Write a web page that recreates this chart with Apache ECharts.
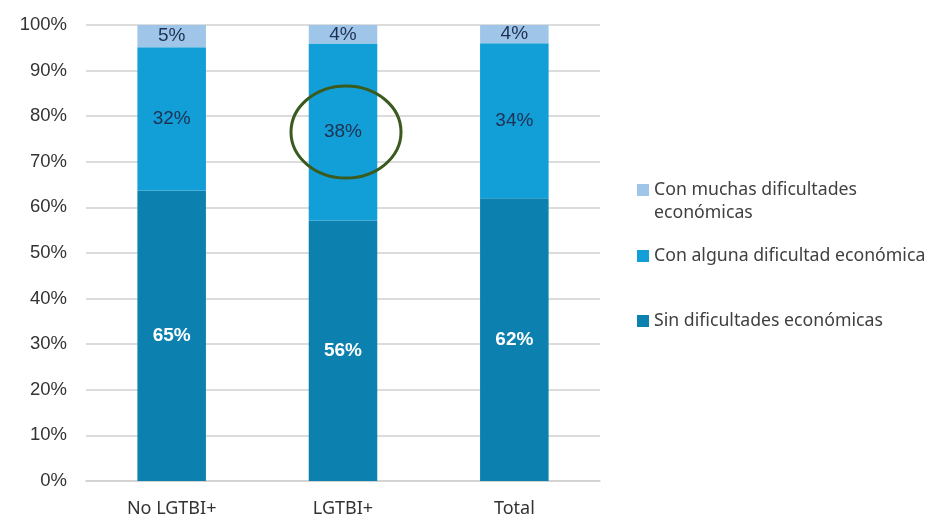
<!DOCTYPE html>
<html>
<head>
<meta charset="utf-8">
<script src="https://cdn.jsdelivr.net/npm/echarts@6/dist/echarts.min.js"></script>
<style>html,body{margin:0;padding:0;background:#fff}#c{width:929px;height:515px}</style>
</head>
<body>
<div id="c"></div>
<script>
var categories = ['No LGTBI+', 'LGTBI+', 'Total'];
var sinDificultades = [65, 56, 62];
var algunaDificultad = [32, 38, 34];
var muchasDificultades = [5, 4, 4];
var yTicks = [0, 10, 20, 30, 40, 50, 60, 70, 80, 90, 100];
var seriesNames = ['Sin dificultades económicas', 'Con alguna dificultad económica', 'Con muchas dificultades económicas'];
var colors = ['#0c81b0', '#129ed6', '#9fc6e8'];

var raw = [sinDificultades, algunaDificultad, muchasDificultades];
var totals = categories.map(function (_, i) { return raw[0][i] + raw[1][i] + raw[2][i]; });
function shares(arr) {
  return arr.map(function (v, i) { return { value: v / totals[i] * 100, raw: v }; });
}
var labelStyles = [
  { color: '#ffffff', fontWeight: 'bold', fontSize: 19, fontFamily: 'Liberation Sans' },
  { color: '#1f3153', fontSize: 19, fontFamily: 'Liberation Sans' },
  { color: '#1f3153', fontSize: 19, fontFamily: 'Liberation Sans' }
];

var series = raw.map(function (arr, k) {
  return {
    name: seriesNames[k],
    type: 'bar',
    stack: 'total',
    barWidth: '40%',
    data: shares(arr),
    itemStyle: { color: colors[k] },
    label: Object.assign({
      show: true,
      position: 'inside',
      formatter: function (p) { return p.data.raw + '%'; }
    }, labelStyles[k])
  };
});

var legendFont = { fontFamily: 'Noto Sans', fontSize: 17.7, color: '#404040' };
var chart = echarts.init(document.getElementById('c'));
chart.setOption({
  animation: false,
  grid: { left: 86, right: 329, top: 25, bottom: 34, containLabel: false, outerBoundsMode: 'none' },
  legend: [
    {
      data: [seriesNames[2]], left: 632, top: 176, orient: 'vertical',
      itemWidth: 12, itemHeight: 12, icon: 'rect',
      formatter: function () { return 'Con muchas dificultades'; },
      textStyle: legendFont
    },
    {
      data: [seriesNames[1]], left: 632, top: 242, orient: 'vertical',
      itemWidth: 12, itemHeight: 12, icon: 'rect',
      textStyle: legendFont
    },
    {
      data: [seriesNames[0]], left: 632, top: 307, orient: 'vertical',
      itemWidth: 12, itemHeight: 12, icon: 'rect',
      textStyle: legendFont
    }
  ],
  xAxis: {
    type: 'category',
    data: categories,
    axisTick: { show: false },
    axisLine: { lineStyle: { color: '#d0d0d0', width: 1.5 } },
    axisLabel: { color: '#333333', fontSize: 18, fontFamily: 'Noto Sans', margin: 19 }
  },
  yAxis: {
    type: 'value',
    min: 0, max: 100, interval: 10,
    axisLine: { show: false },
    axisTick: { show: false },
    splitLine: { lineStyle: { color: '#d0d0d0', width: 1.5 } },
    axisLabel: {
      color: '#333333', fontSize: 18.5, fontFamily: 'Liberation Sans', margin: 19,
      formatter: function (v) { return yTicks.indexOf(v) >= 0 ? v + '%' : ''; }
    }
  },
  series: series
});

// annotation ellipse around the LGTBI+ middle segment
var idx = 1;
var lo = sinDificultades[idx] / totals[idx] * 100;
var hi = lo + algunaDificultad[idx] / totals[idx] * 100;
var c = chart.convertToPixel({ gridIndex: 0 }, [categories[idx], (lo + hi) / 2]);
chart.setOption({
  graphic: [{
    type: 'text',
    left: 654, top: 204,
    style: { text: 'económicas', fontFamily: 'Noto Sans', fontSize: 17.7, fill: '#404040' }
  }, {
    type: 'ellipse',
    shape: { cx: c[0] + 3, cy: c[1], rx: 55, ry: 46 },
    style: { fill: 'none', stroke: '#3a5a1e', lineWidth: 3 },
    z: 100
  }]
});
</script>
</body>
</html>
